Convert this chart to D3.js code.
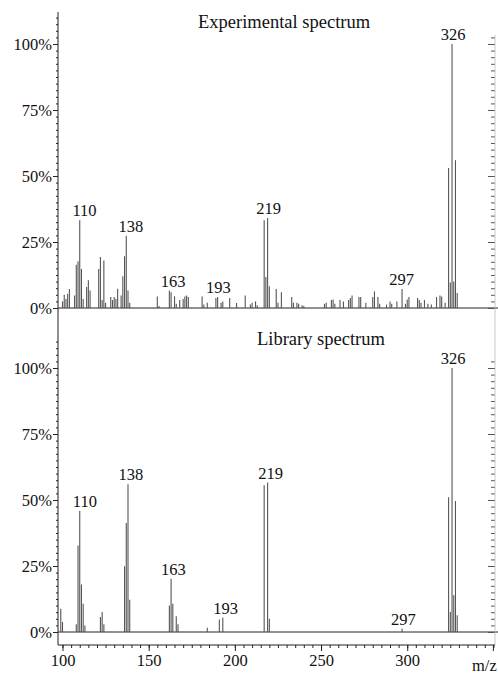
<!DOCTYPE html>
<html lang="en">
<head>
<meta charset="UTF-8">
<title>Experimental vs library spectrum</title>
<script src="https://cdn.jsdelivr.net/npm/d3@7"></script>
<style>
  body { margin: 0; background: #fff; }
  svg { display: block; }
</style>
</head>
<body>
<div id="container"></div>
<script>
// m/z and relative intensity (%)
const expMz  = [100,101,102,103,104,107,108,109,110,111,112,114,115,116,121,122,123,124,125,128,129,130,131,132,134,135,136,137,138,139,
                155,156,162,163,165,166,168,170,171,172,173,181,182,184,189,190,192,193,197,201,206,209,210,212,213,217,218,219,220,224,225,227,
                233,234,236,237,239,240,252,253,256,257,258,261,263,266,267,268,272,273,276,280,281,283,284,288,290,291,294,297,299,300,301,
                306,307,308,310,312,314,317,319,320,322,324,325,326,327,328,329];
const expInt = [2.5,5,3.4,5.4,7.2,4.7,16.4,17.7,33.2,14.8,3.4,8,10.5,6.6,14.8,19.3,3,18,2,4.2,3,4.2,3.4,7.3,4.7,12,19.6,27.4,6.6,2,
                4.4,0.8,6.6,6,4.4,1.6,3,3.4,4.4,4.7,4.2,4.4,1.3,2,3.8,4.2,2,2.5,3.8,1.9,4.7,1.3,2,2.5,1,33.2,11.7,34.1,8.2,7.2,2,6,
                4.2,2,2,1.6,1,0.8,1.6,2,3,3.2,1.6,3,2.5,3,3.8,4.7,4.2,4.2,2,4.2,6.3,4.2,1.6,1.3,2.5,1.6,2.5,7.2,1.6,3.2,4.2,
                3.8,3,2,3,1.6,1.3,4.2,4.7,4.4,2,53,9.7,100,10,56,5.7];

const libMz  = [99,100,108,109,110,111,112,113,122,123,124,136,137,138,139,162,163,164,166,167,184,191,193,217,219,220,297,324,325,326,327,328,329];
const libInt = [8.8,3.8,2.9,32.8,45.8,18,10.7,2.5,5.7,7.6,2.9,24.9,41.3,56,12.2,10,20.2,10.7,6,2.9,1.6,4.7,5.4,55.6,56.6,5,1.3,51,7.6,100,13.9,49.6,6.3];

// annotated peaks, and the m/z where each number is centred
const peakLabels  = [110, 138, 163, 193, 219, 297, 326];
const expLabelAt  = [112.8, 139.6, 164.2, 190.4, 219.6, 296.8, 326.6];
const libLabelAt  = [113, 139.6, 164.3, 194.7, 220.8, 297.8, 326.7];

const panelTitles = ["Experimental spectrum", "Library spectrum"];
const yTicks = [0, 25, 50, 75, 100];
const xTicks = [100, 150, 200, 250, 300];

const width = 498, height = 674;
const font = "'Liberation Serif', 'Times New Roman', serif";
const barColor = "#555";
const axisColor = "#222";

const x = d3.scaleLinear().domain([100, 350]).range([62.5, 493.4]);
const yTop = d3.scaleLinear().domain([0, 100]).range([308, 44]);
const yBot = d3.scaleLinear().domain([0, 100]).range([632, 368]);

const svg = d3.select("#container").append("svg")
    .attr("width", width)
    .attr("height", height)
    .attr("font-family", font);

const axisLeftX = 58, axisRightX = 495, xAxisY = 645;

function panel(mz, inten, labelAt, y, title, titleX, titleY) {
    const data = mz.map((m, i) => ({mz: m, v: inten[i]}));

    // baseline
    svg.append("line")
        .attr("x1", axisLeftX).attr("x2", 498)
        .attr("y1", y(0)).attr("y2", y(0))
        .attr("stroke", axisColor).attr("stroke-width", 1);

    svg.append("g")
        .selectAll("line")
        .data(data)
        .join("line")
        .attr("x1", d => x(d.mz)).attr("x2", d => x(d.mz))
        .attr("y1", y(0)).attr("y2", d => y(d.v))
        .attr("stroke", barColor)
        .attr("stroke-width", 1.1);

    // left axis: major + minor ticks
    const major = svg.append("g")
        .attr("transform", `translate(${axisLeftX},0)`)
        .call(d3.axisLeft(y).tickValues(yTicks).tickFormat(d => d + "%").tickSize(5).tickPadding(1));
    major.select(".domain").remove();
    major.selectAll("line").attr("stroke", axisColor);
    major.selectAll("text")
        .attr("font-family", font)
        .attr("font-size", 16.5)
        .attr("fill", "#111");

    const minor = svg.append("g")
        .attr("transform", `translate(${axisLeftX},0)`)
        .call(d3.axisLeft(y).tickValues(d3.range(0, 112.5, 2.5)).tickFormat("").tickSize(2));
    minor.select(".domain").remove();
    minor.selectAll("line").attr("stroke", axisColor);

    // right axis ticks (partly cut)
    const right = svg.append("g")
        .attr("transform", `translate(${axisRightX},0)`)
        .call(d3.axisRight(y).tickValues(d3.range(0, 105, 2.5)).tickFormat("")
            .tickSize(-4));
    right.select(".domain").remove();
    right.selectAll("line").attr("stroke", "#555");
    const rightMajor = svg.append("g")
        .attr("transform", `translate(${axisRightX},0)`)
        .call(d3.axisRight(y).tickValues(yTicks).tickFormat("").tickSize(-7));
    rightMajor.select(".domain").remove();
    rightMajor.selectAll("line").attr("stroke", "#555");

    // peak labels
    svg.append("g")
        .selectAll("text")
        .data(peakLabels)
        .join("text")
        .attr("x", (d, i) => x(labelAt[i]))
        .attr("y", d => {
            const near = data.filter(p => Math.abs(p.mz - d) <= 3);
            return y(d3.max(near, p => p.v)) - 4;
        })
        .attr("text-anchor", "middle")
        .attr("font-size", 16.5)
        .attr("fill", "#111")
        .text(d => d);

    svg.append("text")
        .attr("x", titleX).attr("y", titleY)
        .attr("font-size", 18.5)
        .attr("fill", "#111")
        .text(title);
}

panel(expMz, expInt, expLabelAt, yTop, panelTitles[0], 198, 28);
panel(libMz, libInt, libLabelAt, yBot, panelTitles[1], 257, 345);

// left vertical axis line across both panels
svg.append("line")
    .attr("x1", axisLeftX).attr("x2", axisLeftX)
    .attr("y1", 12).attr("y2", xAxisY)
    .attr("stroke", axisColor);

// faint right vertical line
svg.append("line")
    .attr("x1", axisRightX).attr("x2", axisRightX)
    .attr("y1", 35).attr("y2", xAxisY)
    .attr("stroke", "#bbb").attr("stroke-width", 0.8);

// bottom m/z axis
const xa = svg.append("g")
    .attr("transform", `translate(0,${xAxisY})`)
    .call(d3.axisBottom(x).tickValues(xTicks).tickSize(6).tickPadding(3).tickFormat(d3.format("d")));
xa.select(".domain").attr("d", `M${axisLeftX},0H${axisRightX}`).attr("stroke", axisColor);
xa.selectAll("line").attr("stroke", axisColor);
xa.selectAll("text").attr("font-family", font).attr("font-size", 16.5).attr("fill", "#111");

const xm = svg.append("g")
    .attr("transform", `translate(0,${xAxisY})`)
    .call(d3.axisBottom(x).tickValues(d3.range(100, 355, 5)).tickSize(3).tickFormat(""));
xm.select(".domain").remove();
xm.selectAll("line").attr("stroke", axisColor);

// tick at 350 is unlabelled; the unit sits there instead
svg.append("line")
    .attr("x1", x(350)).attr("x2", x(350))
    .attr("y1", xAxisY).attr("y2", xAxisY + 6)
    .attr("stroke", axisColor);

svg.append("text")
    .attr("x", 472).attr("y", 671)
    .attr("font-size", 16.5)
    .attr("fill", "#111")
    .text("m/z");
</script>
</body>
</html>
